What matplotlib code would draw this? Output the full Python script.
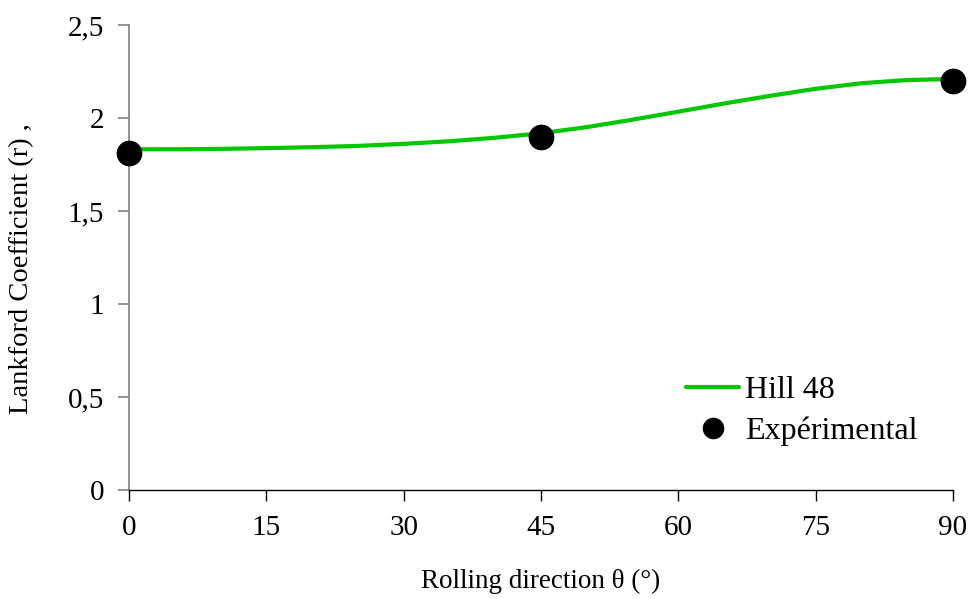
import matplotlib
matplotlib.use("Agg")
import matplotlib.pyplot as plt

# ---- data ----
theta_curve = [0, 5, 10, 15, 20, 25, 30, 35, 40, 45, 50, 55, 60, 65, 70, 75, 80, 85, 90]
r_hill48 = [1.832, 1.832, 1.834, 1.838, 1.843, 1.850, 1.861, 1.875, 1.894, 1.918,
            1.951, 1.991, 2.034, 2.078, 2.119, 2.157, 2.187, 2.204, 2.210]
theta_exp = [0, 45, 90]
r_exp = [1.81, 1.90, 2.20]
x_ticks = [0, 15, 30, 45, 60, 75, 90]
y_ticks = [0, 0.5, 1, 1.5, 2, 2.5]
y_tick_labels = ["0", "0,5", "1", "1,5", "2", "2,5"]

plt.rcParams['font.family'] = ['Liberation Serif', 'DejaVu Serif']

fig = plt.figure(figsize=(9.72, 5.99), dpi=100)
ax = fig.add_axes([129/972, 109/599, 824/972, 465/599])

ax.plot(theta_curve, r_hill48, color='#00C800', lw=3.0, label='Hill 48',
        solid_capstyle='round', solid_joinstyle='round', zorder=2)
ax.plot(theta_exp, r_exp, 'o', color='black', ms=17.5, ls='none', label='Expérimental',
        clip_on=False, zorder=3)

ax.set_xlim(0, 90)
ax.set_ylim(0, 2.5)
ax.set_xticks(x_ticks)
ax.set_xticklabels([str(v) for v in x_ticks])
ax.set_yticks(y_ticks)
ax.set_yticklabels(y_tick_labels)

for s in ['top', 'right']:
    ax.spines[s].set_visible(False)
ax.spines['left'].set_color('#808080')
ax.spines['left'].set_linewidth(1.2)
ax.spines['bottom'].set_color('black')
ax.spines['bottom'].set_linewidth(1.0)

ax.tick_params(axis='y', direction='out', length=8, width=1.2, color='#808080',
               labelsize=21, pad=10)
ax.tick_params(axis='x', direction='out', length=8, width=1.0, color='black',
               labelsize=21, pad=10)

ax.set_xlabel('Rolling direction θ (°)', fontsize=19.5, labelpad=20)
ax.set_ylabel('Lankford Coefficient (r) ,', fontsize=20.5)
ax.yaxis.set_label_coords(-0.115, 0.477)

leg = fig.legend(handles=ax.get_lines(), loc='upper left',
                 bbox_to_anchor=(686/972, 1 - 376/599), bbox_transform=fig.transFigure,
                 frameon=False, fontsize=23, borderpad=0, borderaxespad=0,
                 handlelength=1.66, handletextpad=0.2,
                 labelspacing=0.36, markerscale=0.83)

fig.savefig('out.png', dpi=100)
